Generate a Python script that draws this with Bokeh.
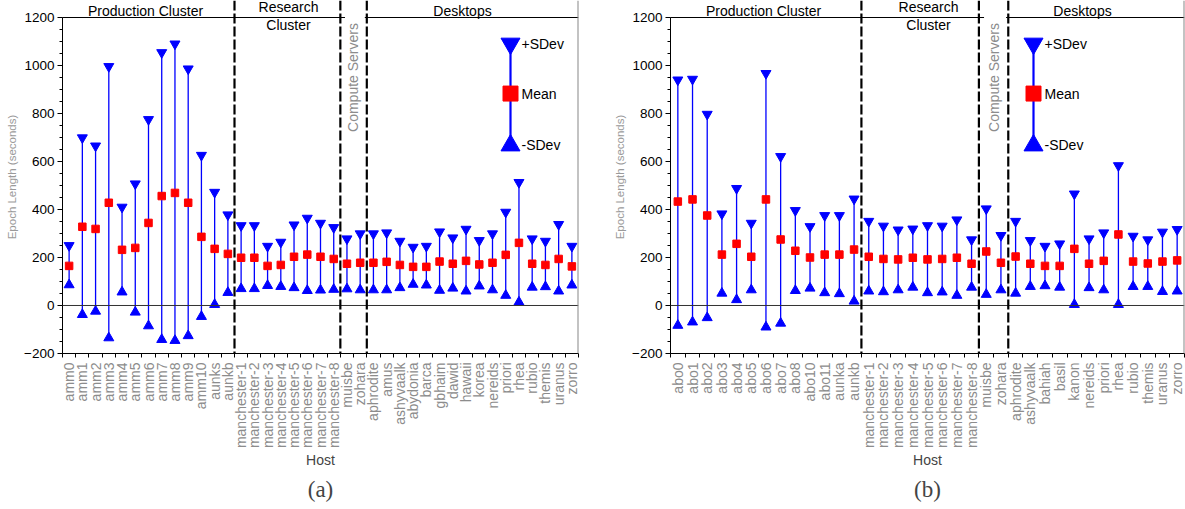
from math import pi
from bokeh.plotting import figure
from bokeh.layouts import row
from bokeh.models import FixedTicker, Span, Title, Range1d
from bokeh.core.properties import value
from bokeh.embed import file_html
from bokeh.resources import INLINE

# ---------------- data: panel (a) ----------------
a_hosts = (["amm0", "amm1", "amm2", "amm3", "amm4", "amm5", "amm6", "amm7", "amm8", "amm9", "amm10", "aunks", "aunkb"]
           + ["manchester-%d" % i for i in range(1, 9)]
           + ["muisbe", "zohara"]
           + ["aphrodite", "amus", "ashyvaalk", "abydonia", "barca", "gbhaim", "dawid", "hawaii",
              "korea", "nereids", "priori", "rhea", "rubio", "themis", "uranus", "zorro"])
a_mean = ([165, 328, 319, 428, 232, 240, 344, 456, 469, 428, 286, 236, 215]
          + [199, 199, 165, 169, 203, 212, 203, 194]
          + [174, 178]
          + [178, 182, 169, 161, 161, 183, 174, 186, 171, 178, 211, 261, 174, 169, 194, 163])
a_plus = ([250, 699, 665, 996, 410, 507, 775, 1054, 1090, 986, 626, 472, 378]
          + [333, 333, 247, 264, 336, 364, 343, 325]
          + [278, 299]
          + [299, 303, 268, 243, 247, 307, 282, 318, 271, 299, 389, 513, 278, 268, 338, 247])
a_minus = ([86, -38, -24, -135, 56, -28, -85, -142, -146, -126, -46, 4, 54]
           + [70, 70, 83, 79, 74, 62, 64, 67]
           + [69, 65]
           + [65, 65, 74, 88, 85, 63, 72, 60, 81, 65, 42, 14, 76, 78, 60, 85])
a_groups = [13, 8, 2, 16]

# ---------------- data: panel (b) ----------------
b_hosts = (["abo0", "abo1", "abo2", "abo3", "abo4", "abo5", "abo6", "abo7", "abo8", "abo10", "abo11", "aunka", "aunkb"]
           + ["manchester-%d" % i for i in range(1, 9)]
           + ["muisbe", "zohara"]
           + ["aphrodite", "ashyvaalk", "bahiah", "basil", "kanon", "nereids", "priori", "rhea",
              "rubio", "themis", "uranus", "zorro"])
b_mean = ([433, 442, 375, 212, 257, 203, 442, 275, 228, 200, 212, 212, 233]
          + [203, 194, 192, 199, 192, 194, 199, 174]
          + [225, 178]
          + [204, 174, 165, 165, 236, 174, 186, 296, 183, 175, 183, 188])
b_plus = ([940, 943, 797, 382, 488, 343, 967, 621, 396, 329, 375, 375, 444]
          + [351, 331, 315, 319, 333, 331, 357, 274]
          + [403, 292]
          + [351, 271, 247, 257, 465, 278, 303, 583, 289, 274, 306, 317])
b_minus = ([-83, -69, -51, 51, 24, 65, -90, -74, 62, 72, 53, 49, 18]
           + [60, 57, 65, 76, 53, 56, 42, 76]
           + [46, 65]
           + [51, 79, 82, 76, 4, 74, 65, 4, 79, 79, 58, 60])
b_groups = [13, 8, 2, 12]

y_ticks = [-200, 0, 200, 400, 600, 800, 1000, 1200]
group_names = ["Production Cluster", "Research", "Cluster", "Compute Servers", "Desktops"]
legend_texts = ["+SDev", "Mean", "-SDev"]

FONT = "Liberation Sans"
BLUE = "#0000ff"
RED = "#ff0000"


def make_panel(hosts, mean, plus, minus, groups, tag, origin, border_left, frame_w, border_right, pos):
    n = len(hosts)
    slot = frame_w / n

    def px(p):
        return (p - origin - border_left) / slot - 0.5

    p = figure(frame_width=frame_w, frame_height=353, min_border_left=border_left,
               min_border_right=border_right, min_border_top=0, min_border_bottom=0,
               x_range=Range1d(-0.5, n - 0.5), y_range=Range1d(-200, 1270.8),
               output_backend="svg", toolbar_location=None)
    p.outline_line_color = None
    p.grid.visible = False
    p.background_fill_color = "white"
    p.border_fill_color = "white"

    xs = list(range(n))
    # y axis
    yax = p.yaxis[0]
    yax.ticker = FixedTicker(ticks=y_ticks, minor_ticks=list(range(-200, 1201, 50)))
    yax.bounds = (-200, 1200)
    yax.major_label_text_font = FONT
    yax.major_label_text_font_size = "13.5px"
    yax.major_label_text_color = "black"
    yax.major_label_standoff = 3
    yax.major_tick_out = 5
    yax.major_tick_in = 0
    yax.minor_tick_out = 3
    yax.minor_tick_in = 0
    yax.axis_line_color = "black"
    yax.axis_label = "Epoch Length (seconds)"
    yax.axis_label_text_font = FONT
    yax.axis_label_text_font_size = "11.5px"
    yax.axis_label_text_font_style = "normal"
    yax.axis_label_text_color = "#9a9a9a"
    yax.axis_label_standoff = 3

    # x axis
    xax = p.xaxis[0]
    xax.ticker = FixedTicker(ticks=xs, minor_ticks=[i - 0.5 for i in range(n + 1)])
    xax.major_label_overrides = {i: h for i, h in enumerate(hosts)}
    xax.major_label_orientation = pi / 2
    xax.major_label_text_font = FONT
    xax.major_label_text_font_size = "14px"
    xax.major_label_text_color = "#8c8c8c"
    xax.major_label_standoff = 5
    xax.major_tick_out = 0
    xax.major_tick_in = 0
    xax.minor_tick_out = 4
    xax.minor_tick_in = 0
    xax.axis_line_color = "black"
    xax.axis_label = "Host"
    xax.axis_label_text_font = FONT
    xax.axis_label_text_font_size = "14px"
    xax.axis_label_text_font_style = "normal"
    xax.axis_label_standoff = 1

    # zero line & right frame
    p.add_layout(Span(location=0, dimension="width", line_color="#333333", line_width=1))
    p.add_layout(Span(location=n - 0.5, dimension="height", line_color="#888888", line_width=2))

    # group separators
    b = 0
    bounds = []
    for g in groups[:-1]:
        b += g
        bounds.append(b - 0.5)
    for bx in bounds:
        p.add_layout(Span(location=bx, dimension="height", line_color="black", line_width=2.2,
                          line_dash="10 3"))
    # top line segments (gap above compute servers)
    p.segment(x0=[-0.5, bounds[2] - 0.15], y0=[1200, 1200],
              x1=[bounds[1] + 0.35, n - 0.5], y1=[1200, 1200], line_color="black", line_width=1.2)

    # error bars
    p.segment(x0=xs, y0=minus, x1=xs, y1=plus, line_color=BLUE, line_width=1.3)
    p.scatter(xs, plus, marker="inverted_triangle", size=10, color=BLUE)
    p.scatter(xs, minus, marker="triangle", size=10, color=BLUE)
    p.scatter(xs, mean, marker="square", size=7.5, color=RED)

    # group titles
    p.text(x=[px(pos["prod"]), px(pos["res"]), px(pos["res"]), px(pos["desk"])],
           y=[1228, 1243, 1167, 1229],
           text=[group_names[0], group_names[1], group_names[2], group_names[4]],
           text_font=value(FONT), text_font_size=value("14px"), text_color="black",
           text_align="center", text_baseline="middle")
    p.text(x=[px(pos["comp"])], y=[950], text=[group_names[3]], angle=pi / 2,
           text_font=value(FONT), text_font_size=value("14px"), text_color="#8c8c8c",
           text_align="center", text_baseline="middle")

    # legend key
    lx = px(pos["leg"])
    tx = px(pos["legt"])
    p.segment(x0=[lx], y0=[667], x1=[lx], y1=[1091], line_color=BLUE, line_width=2.2)
    p.scatter([lx], [1091], marker="inverted_triangle", size=19, color=BLUE)
    p.scatter([lx], [667], marker="triangle", size=19, color=BLUE)
    p.scatter([lx], [883], marker="square", size=15, color=RED)
    p.text(x=[tx, tx, tx], y=[1091, 883, 667], text=legend_texts,
           text_font=value(FONT), text_font_size=value("14px"), text_color="black",
           text_align="left", text_baseline="middle")

    p.add_layout(Title(text=tag, align="center", text_font="Liberation Serif",
                       text_font_size="23px", text_font_style="normal", standoff=6), "below")
    return p


pa = make_panel(a_hosts, a_mean, a_plus, a_minus, a_groups, "(a)", 0, 62, 516, 17,
                dict(prod=145, res=288, desk=462, comp=352, leg=510, legt=521))
pb = make_panel(b_hosts, b_mean, b_plus, b_minus, b_groups, "(b)", 595, 75, 514, 1,
                dict(prod=763, res=928, desk=1082, comp=993, leg=1033, legt=1044))
layout = row(pa, pb)

open("out.html", "w").write(file_html(layout, INLINE))
